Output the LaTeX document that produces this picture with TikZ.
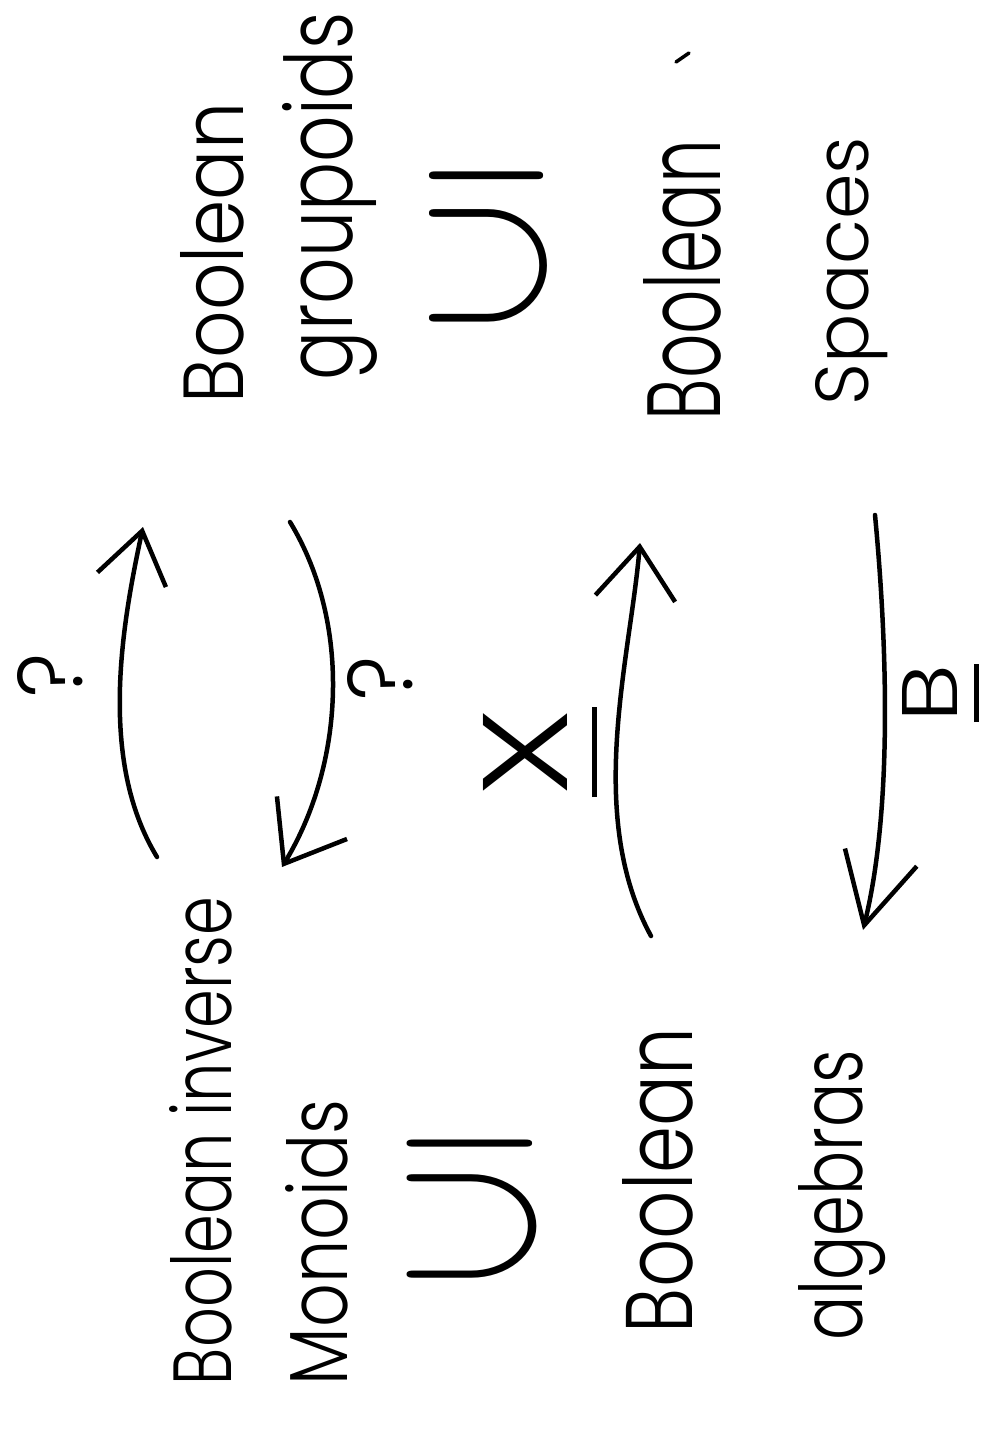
\documentclass[tikz,border=0pt]{standalone}
\usepackage{fontspec}
\setmainfont{Poppins}[UprightFont=* Light]
\usetikzlibrary{arrows.meta}
\newcommand{\hwtext}[3]{\resizebox{#1pt}{#2pt}{#3}}
\newcommand{\ulab}[4]{\vtop{\hbox{\resizebox{#1pt}{#2pt}{#3}}\kern#4pt\hbox{\rule{#1pt}{5pt}}}}
\begin{document}
\begin{tikzpicture}[x=1pt,y=-1pt,
  hw/.style={rotate=90,anchor=base west,inner sep=0pt,outer sep=0pt},
  incl/.style={rotate=180,inner sep=0pt,outer sep=0pt},
  pen/.style={line width=4.5pt,line cap=round,line join=round}]
\fill[white] (0,0) rectangle (1005,1430);
\path[use as bounding box] (0,0) rectangle (1005,1430);
% texts
\node[hw] (bim1) at (231,1385) {\hwtext{488}{62}{Boolean inverse}};
\node[hw] (bim2) at (347,1385) {\hwtext{285}{62}{Monoids}};
\node[hw] (ba1) at (692,1333) {\hwtext{305}{70}{Boolean}};
\node[hw] (ba2) at (862,1340) {\hwtext{290}{64}{algebras}};
\node[hw] (bg1) at (243,403) {\hwtext{300}{63}{Boolean}};
\node[hw] (bg2) at (352,380) {\hwtext{367}{70}{groupoids}};
\node[hw] (bs1) at (720,420) {\hwtext{280}{77}{Boolean}};
\node[hw] (bs2) at (868,405) {\hwtext{268}{53}{Spaces}};
% inclusions
\node[incl] (inc1) at (472,1209) {\resizebox*{165pt}{138pt}{$\subseteq$}};
\node[incl] (inc2) at (488,247) {\resizebox*{150pt}{150pt}{$\subseteq$}};
% labels
\node[hw] (q1) at (82,697) {\hwtext{44}{65}{?}};
\node[hw] (q2) at (412,700) {\hwtext{44}{65}{?}};
\node[hw] (xl) at (567,797) {\ulab{90}{84}{X}{18}};
\node[hw] (bl) at (957,722) {\ulab{58}{55}{B}{10}};
% stray tick
\draw[line width=3.5pt,line cap=round] (676,62) -- (689,53);
% arrows
\coordinate (a1t) at (157,857); \coordinate (a1h) at (143,527);
\coordinate (a2t) at (290,522); \coordinate (a2h) at (282,867);
\coordinate (a3t) at (651,936); \coordinate (a3h) at (640,543);
\coordinate (a4t) at (875,515); \coordinate (a4h) at (863,930);
\draw[pen,-{Straight Barb[length=50pt,width=70pt,line width=4.5pt]}]
  (a1t) .. controls (98,760) and (122,625) .. (a1h);
\draw[pen,-{Straight Barb[length=54pt,width=82pt,line width=4.5pt]}]
  (a2t) .. controls (352,624) and (344,765) .. (a2h);
\draw[pen,-{Straight Barb[length=52pt,width=80pt,line width=4.5pt]}]
  (a3t) .. controls (585,815) and (630,660) .. (a3h);
\draw[pen,-{Straight Barb[length=70pt,width=74pt,line width=4.5pt]}]
  (a4t) .. controls (885,620) and (895,800) .. (a4h);
\end{tikzpicture}
\end{document}
